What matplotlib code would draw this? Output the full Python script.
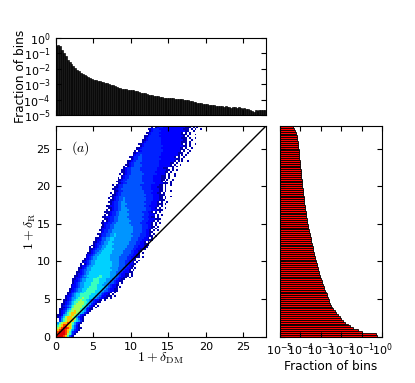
#!/usr/bin/env python
import numpy as np
import matplotlib as mpl
mpl.use('Agg')
import matplotlib.pyplot as plt
from matplotlib.ticker import LogLocator, NullFormatter

mpl.rcParams['font.size'] = 8
mpl.rcParams['xtick.direction'] = 'in'
mpl.rcParams['ytick.direction'] = 'in'
mpl.rcParams['xtick.top'] = True
mpl.rcParams['ytick.right'] = True
mpl.rcParams['axes.linewidth'] = 0.8

bin_width = 0.25

# log10 fraction of bins, one value per bin of 1+delta_DM
top_logfrac = [
    -.50, -.48, -.55, -.80, -1.00, -1.20, -1.40, -1.55, -1.70, -1.85,
    -1.95, -2.05, -2.15, -2.25, -2.33, -2.40, -2.47, -2.53, -2.58, -2.65,
    -2.70, -2.73, -2.77, -2.80, -2.84, -2.87, -2.90, -2.93, -2.98, -3.02,
    -3.07, -3.12, -3.17, -3.22, -3.26, -3.28, -3.30, -3.33, -3.35, -3.37,
    -3.38, -3.40, -3.44, -3.47, -3.51, -3.54, -3.57, -3.60, -3.64, -3.67,
    -3.70, -3.72, -3.74, -3.76, -3.79, -3.82, -3.84, -3.87, -3.88, -3.90,
    -3.90, -3.92, -3.91, -3.93, -3.95, -3.96, -3.97, -3.98, -4.00, -4.03,
    -4.05, -4.08, -4.10, -4.13, -4.17, -4.20, -4.22, -4.25, -4.27, -4.30,
    -4.31, -4.33, -4.35, -4.37, -4.38, -4.40, -4.42, -4.40, -4.44, -4.46,
    -4.43, -4.47, -4.49, -4.52, -4.48, -4.50, -4.53, -4.51, -4.55, -4.58,
    -4.56, -4.60, -4.63, -4.68, -4.72, -4.80, -4.68, -4.72, -4.65, -4.70,
    -4.66, -4.65]

# log10 fraction of bins, one value per bin of 1+delta_R
right_logfrac = [
    -.25, -.30, -.96, -1.20, -1.40, -1.55, -1.68, -1.80, -1.90, -2.00,
    -2.08, -2.15, -2.24, -2.32, -2.40, -2.45, -2.49, -2.54, -2.58, -2.61,
    -2.64, -2.68, -2.72, -2.75, -2.79, -2.83, -2.86, -2.90, -2.93, -2.96,
    -2.99, -3.02, -3.05, -3.08, -3.11, -3.14, -3.16, -3.18, -3.20, -3.22,
    -3.25, -3.27, -3.29, -3.31, -3.33, -3.36, -3.38, -3.40, -3.42, -3.44,
    -3.46, -3.48, -3.50, -3.53, -3.55, -3.57, -3.59, -3.61, -3.63, -3.65,
    -3.66, -3.68, -3.70, -3.71, -3.73, -3.74, -3.75, -3.76, -3.77, -3.78,
    -3.80, -3.81, -3.82, -3.83, -3.84, -3.85, -3.86, -3.88, -3.89, -3.90,
    -3.91, -3.92, -3.93, -3.94, -3.95, -3.96, -3.97, -3.98, -3.99, -4.00,
    -4.01, -4.02, -4.03, -4.04, -4.05, -4.06, -4.06, -4.07, -4.08, -4.09,
    -4.10, -4.11, -4.13, -4.14, -4.15, -4.17, -4.18, -4.20, -4.21, -4.25,
    -4.30, -4.35]

# colour level (hex 1-b, '.' empty) of the joint histogram, row by row from
# delta_R bin 0, each row starting at bin first_bin[row] of delta_DM
first_bin = [
    0, 0, 0, 0, 0, 0, 0, 0, 1, 1, 1, 1, 2, 2, 2, 3, 3, 3, 4, 4,
    5, 5, 6, 6, 7, 7, 8, 8, 8, 9, 9, 10, 10, 11, 11, 12, 12, 13, 13, 14,
    14, 15, 15, 16, 17, 17, 18, 18, 19, 19, 20, 21, 21, 22, 22, 23, 23, 24, 24, 24,
    24, 25, 25, 25, 26, 26, 26, 27, 27, 27, 28, 28, 28, 28, 29, 29, 29, 29, 30, 30,
    30, 31, 32, 32, 33, 33, 34, 34, 35, 35, 36, 37, 37, 38, 39, 39, 40, 41, 42, 42,
    43, 44, 44, 45, 46, 46, 47, 48, 48, 49, 49, 50]
levels = [
    "abbba97421",
    "babbba87531",
    "9abbba975321",
    "89abba9865321",
    "689abba9864211",
    ".789aa9986421",
    ".689aa9987531",
    ".57899a9875321",
    ".3578999976531",
    ".2578999986421",
    "12468999875321",
    "112567899875321",
    "1235789998765321",
    "12346788988765321",
    "112356788887653211",
    "11234678888765321.1",
    "123456788887765321.1",
    "1123456788887665321",
    "12345677888776543211",
    "112345677877665432211.1",
    "12345567787776655432211.1",
    "1223456677777666554322111.1",
    "12345667777776665543221.1",
    "112345566777777665543221.1",
    "12234556677777666554432211",
    "11234556667777766655432211",
    "1223455666777766665543221.1",
    "12234556666777666555432211",
    ".1234556666777766655544321.1",
    "122345566667776666554432211",
    "1123455666677766665554432211.",
    "1223445566667776666555432211.1",
    "11234556666667766665554432211.1",
    "1223455666666666665554432211.1",
    "112345566666666666555444322211",
    "1234455666666666665554443221.1",
    "11234556666666666555544433221.1",
    "12234556666666666555544433211",
    "1.1234556666666665555444332211",
    "1223455666666666555544433221.1",
    "11234556666666655555444332211.1",
    "1223455666666655555444433221",
    ".12345566666665555544443322211.1",
    "12234556666665555554444332211",
    "1123455666666555555444433221.1",
    ".1234455666665555554444332211",
    "112344556666655555544443322111",
    "1.12344556665555555544443322211",
    "1123445566655555555444433222111",
    ".123344556665555555544443322111",
    "1123445566555555555444433221.1",
    "1223445566555555555444433222111",
    "11234455665555555554444333221.1",
    ".12334455655555555544443332211.1",
    "11233445565555555544444333221.1",
    ".1233445555555555544444332211",
    "1123344555555555554444433221.1.1",
    "1223344555555555544444333221.1",
    "11233445555555555444443332211.1",
    ".123344555555555444444333221.1",
    "1122334455555554444443332221.1.1",
    "1.12334455555554444443332221.1",
    ".112334455555544444444333222111",
    "1122334455555444444443332211.1",
    "1.1233445555544444444333222.1.1",
    ".112334455555444444443332211",
    "11123344555544444444333221.1.1",
    "1.1233445555444444444333222111",
    ".11233445554444444444333221.1..1",
    "1122334455444444444433322221.1",
    ".1233445554444444444333222111.1",
    "112334455444444444433332221.1..1",
    ".11233445444444444443333222111",
    "1.123344544444444444333322211.1",
    "1123344444444444443333322211.1..1",
    ".1123344444444444443333222111",
    "1.1233444444444444333322211.1",
    "..11233444444444443333322211.1..1",
    "112334444444444433333222211.1",
    ".11233444444444433333222111.1",
    "1.1233444444444333333222211.1..1",
    "..112334444444443333332222111.1",
    "1123344444444433333322221.1..1",
    ".1123344444444333333222211.1..1",
    "1.123344444443333332222111.1",
    "..123344444443333332222111.1..1",
    "1.12334444444333333322221.1..1",
    ".1123344444433333332222211.1",
    "11233444443333333332222211.1.1",
    ".123344444333333333222111..1",
    "1.1233444433333333322222211.1",
    "1123344443333333332222221.1..1",
    ".1233444333333333322222211.1",
    "11233444333333333222222221.1.1..1",
    ".12334433333333332222222211.1",
    "1123344333333333222222221.1..1",
    ".1233433333333332222222221.1.1",
    "112333333333333222222222111..1",
    "1.12333333333332222222221.1..1",
    ".12333333333333222222222111.1",
    "1123333333333222222222211.1..1",
    ".1233333333332222222222211.1",
    "112333333333222222222221.1.1..1",
    ".123333333322222222222111.1",
    "112333333322222222222211..1",
    ".12333333322222222222111.1..1",
    "1123333322222222222221.1",
    ".123333322222222222111.1..1",
    "11233332222222222221.1.1",
    ".123333222222222222211..1",
    "1123332222222222222111.1.1..1",
    ".1.1233222222222222111.1.1"]

# jet fractions of levels 1-b
level_colors = [0.04, 0.11, 0.16, 0.21, 0.27, 0.33, 0.42, 0.55, 0.70, 0.85, 0.92]

n_bins = 112
edges = np.arange(n_bins + 1)*bin_width
grid = np.full((n_bins, n_bins), np.nan)
for row in range(n_bins):
    for k, c in enumerate(levels[row]):
        if c != '.':
            grid[row, first_bin[row] + k] = level_colors[int(c, 16) - 1]

fig = plt.figure(figsize=(4.15, 3.83), dpi=100)
W, H = 415., 383.
ax_main = fig.add_axes([55.5/W, 1 - 336.7/H, 210.5/W, 210.7/H])
ax_top = fig.add_axes([55.5/W, 1 - 115/H, 210.5/W, 77/H])
ax_right = fig.add_axes([280/W, 1 - 336.7/H, 102/W, 210.7/H])

ax_main.pcolormesh(edges, edges, np.ma.masked_invalid(grid), cmap='jet', vmin=0, vmax=1)
ax_main.plot([0, 28], [0, 28], color='k', lw=1)
ax_main.set_xlim(0, 28)
ax_main.set_ylim(0, 28)
ax_main.set_xticks(range(0, 26, 5))
ax_main.set_yticks(range(0, 26, 5))
ax_main.set_xlabel(r'$1+\delta_{\rm DM}$', math_fontfamily='cm', fontsize=10, labelpad=-1)
ax_main.set_ylabel(r'$1+\delta_{\rm R}$', math_fontfamily='cm', fontsize=10, labelpad=-1)
ax_main.text(2, 25, r'$(a)$', math_fontfamily='cm', fontsize=10, va='center')

ax_top.bar(edges[:-1], 10.0**np.array(top_logfrac), width=bin_width, align='edge',
           color='k', edgecolor='k', linewidth=0.5, alpha=0.9)
ax_top.set_yscale('log')
ax_top.set_xlim(0, 28)
ax_top.set_ylim(1e-5, 1)
ax_top.set_xticks(range(0, 26, 5))
ax_top.set_xticklabels([])
ax_top.yaxis.set_major_locator(LogLocator(base=10, numticks=6))
ax_top.yaxis.set_minor_formatter(NullFormatter())
ax_top.minorticks_off()
ax_top.set_ylabel('Fraction of bins', fontsize=8.7, labelpad=-3)

ax_right.barh(edges[:-1], 10.0**np.array(right_logfrac), height=bin_width, align='edge',
              color='r', edgecolor='k', linewidth=0.6)
ax_right.set_xscale('log')
ax_right.set_ylim(0, 28)
ax_right.set_xlim(1e-5, 1)
ax_right.set_yticks(range(0, 26, 5))
ax_right.set_yticklabels([])
ax_right.xaxis.set_major_locator(LogLocator(base=10, numticks=6))
ax_right.minorticks_off()
ax_right.set_xlabel('Fraction of bins', fontsize=8.7, labelpad=1)

fig.savefig('out.png', dpi=100)
